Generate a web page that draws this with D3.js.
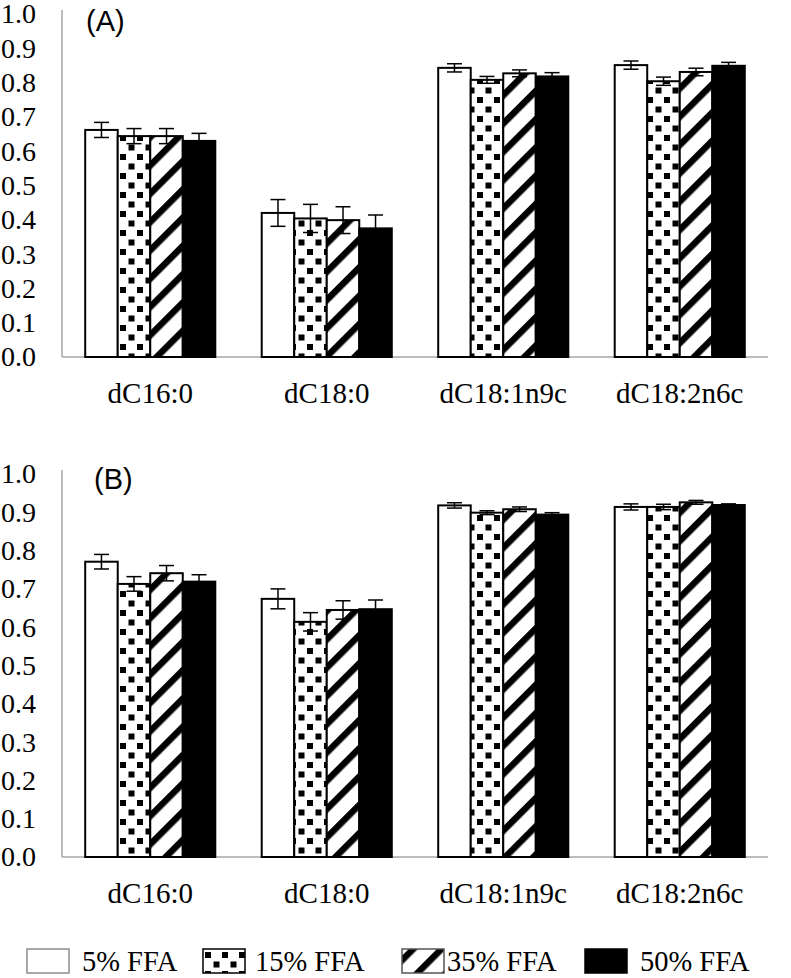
<!DOCTYPE html>
<html>
<head>
<meta charset="utf-8">
<script src="https://cdn.jsdelivr.net/npm/d3@7"></script>
</head>
<body style="margin:0">
<svg id="chart" width="791" height="978"></svg>
<script>
// ---------- data ----------
const categories = ["dC16:0", "dC18:0", "dC18:1n9c", "dC18:2n6c"];
const seriesNames = ["5% FFA", "15% FFA", "35% FFA", "50% FFA"];
const yTicks = [0, 0.1, 0.2, 0.3, 0.4, 0.5, 0.6, 0.7, 0.8, 0.9, 1.0];

// Panel (A)
const a5  = [0.662, 0.420, 0.843, 0.851];
const a15 = [0.644, 0.404, 0.808, 0.804];
const a35 = [0.644, 0.399, 0.827, 0.831];
const a50 = [0.630, 0.375, 0.818, 0.849];
const aErr5  = [0.022, 0.039, 0.012, 0.012];
const aErr15 = [0.022, 0.041, 0.010, 0.012];
const aErr35 = [0.022, 0.039, 0.010, 0.011];
const aErr50 = [0.022, 0.039, 0.011, 0.010];

// Panel (B)
const b5  = [0.771, 0.674, 0.918, 0.914];
const b15 = [0.713, 0.614, 0.899, 0.914];
const b35 = [0.741, 0.645, 0.908, 0.926];
const b50 = [0.719, 0.647, 0.894, 0.919];
const bErr5  = [0.019, 0.026, 0.007, 0.008];
const bErr15 = [0.019, 0.024, 0.005, 0.007];
const bErr35 = [0.020, 0.024, 0.006, 0.005];
const bErr50 = [0.018, 0.024, 0.005, 0.003];

// ---------- setup ----------
const SERIF = "Liberation Serif";
const SANS = "Liberation Sans";
const svg = d3.select("#chart");
const defs = svg.append("defs");

// dotted (squares) pattern
const dots = defs.append("pattern").attr("id", "dots")
  .attr("patternUnits", "userSpaceOnUse").attr("width", 17).attr("height", 19);
dots.append("rect").attr("width", 17).attr("height", 19).attr("fill", "#fff");
dots.append("rect").attr("x", 1).attr("y", 2).attr("width", 6).attr("height", 6).attr("fill", "#000");
dots.append("rect").attr("x", 9.5).attr("y", 11.5).attr("width", 6).attr("height", 6).attr("fill", "#000");

// diagonal stripe pattern
const hatch = defs.append("pattern").attr("id", "hatch")
  .attr("patternUnits", "userSpaceOnUse").attr("width", 20).attr("height", 20)
  .attr("patternTransform", "rotate(-45)");
hatch.append("rect").attr("width", 20).attr("height", 20).attr("fill", "#fff");
hatch.append("rect").attr("x", 0).attr("y", 0).attr("width", 20).attr("height", 6.5).attr("fill", "#000");

const fills = ["#ffffff", "url(#dots)", "url(#hatch)", "#000000"];

const x0 = d3.scaleBand().domain(categories).range([62, 768])
  .paddingInner(0.263).paddingOuter(0.1315);
const x1 = d3.scaleBand().domain(seriesNames).range([0, x0.bandwidth()]);

function drawPanel(label, vals, errs, yBottom, yTop, labelX, labelY, catY) {
  const y = d3.scaleLinear().domain([0, 1]).range([yBottom, yTop]);
  const g = svg.append("g");

  // y tick labels
  const yAxis = d3.axisLeft(y).tickValues(yTicks).tickFormat(d3.format(".1f")).tickSize(0).tickPadding(26);
  const ya = g.append("g").attr("transform", "translate(62,0)").call(yAxis)
    .attr("font-family", SERIF).attr("font-size", 28);
  ya.select(".domain").remove();
  ya.selectAll("text").attr("font-family", SERIF).attr("font-size", 28).attr("fill", "#000");

  // axis lines
  g.append("line").attr("x1", 62).attr("x2", 62).attr("y1", y(1) - 4).attr("y2", y(0))
    .attr("stroke", "#a6a6a6").attr("stroke-width", 1.5);
  g.append("line").attr("x1", 62).attr("x2", 768).attr("y1", y(0)).attr("y2", y(0))
    .attr("stroke", "#a6a6a6").attr("stroke-width", 1.5);

  // category labels
  const xAxis = d3.axisBottom(x0).tickSize(0).tickPadding(0);
  const xa = g.append("g").attr("transform", `translate(0,${catY})`).call(xAxis)
    .attr("font-family", SERIF).attr("font-size", 29);
  xa.select(".domain").remove();
  xa.selectAll("text").attr("font-family", SERIF).attr("font-size", 29).attr("fill", "#000")
    .attr("dy", 0);

  // bars
  seriesNames.forEach((s, si) => {
    const data = categories.map((c, ci) => ({ c, v: vals[si][ci], e: errs[si][ci] }));
    const bg = g.append("g");
    bg.selectAll("rect").data(data).enter().append("rect")
      .attr("x", d => x0(d.c) + x1(s))
      .attr("y", d => y(d.v))
      .attr("width", x1.bandwidth())
      .attr("height", d => y(0) - y(d.v))
      .attr("fill", fills[si])
      .attr("stroke", "#000").attr("stroke-width", 2);
  });

  // error bars
  seriesNames.forEach((s, si) => {
    const data = categories.map((c, ci) => ({ c, v: vals[si][ci], e: errs[si][ci] }));
    const eg = g.append("g").attr("stroke", "#000").attr("stroke-width", 1.5);
    data.forEach(d => {
      const cx = x0(d.c) + x1(s) + x1.bandwidth() / 2;
      const t = y(d.v + d.e), b = y(d.v - d.e);
      eg.append("line").attr("x1", cx).attr("x2", cx).attr("y1", t).attr("y2", b);
      eg.append("line").attr("x1", cx - 7.5).attr("x2", cx + 7.5).attr("y1", t).attr("y2", t);
      eg.append("line").attr("x1", cx - 7.5).attr("x2", cx + 7.5).attr("y1", b).attr("y2", b);
    });
  });

  // panel label
  g.append("text").attr("x", labelX).attr("y", labelY).text(label)
    .attr("font-family", SANS).attr("font-size", 29).attr("fill", "#000");
}

drawPanel("(A)", [a5, a15, a35, a50], [aErr5, aErr15, aErr35, aErr50], 357, 14, 86, 31, 403);
drawPanel("(B)", [b5, b15, b35, b50], [bErr5, bErr15, bErr35, bErr50], 857, 474, 94, 489, 903);

// ---------- legend ----------
const legendBoxes = [
  { x: 27, stroke: "#8c8c8c" },
  { x: 203, stroke: "#000" },
  { x: 402, stroke: "#555" },
  { x: 585, stroke: "#000" }
];
const legendTextX = [82, 255, 447, 640];
const lg = svg.append("g");
seriesNames.forEach((s, i) => {
  lg.append("rect").attr("x", legendBoxes[i].x).attr("y", 949).attr("width", 42).attr("height", 24)
    .attr("fill", fills[i]).attr("stroke", legendBoxes[i].stroke).attr("stroke-width", 1.5);
  lg.append("text").attr("x", legendTextX[i]).attr("y", 971).text(s)
    .attr("font-family", SERIF).attr("font-size", 28.5).attr("fill", "#000");
});
</script>
</body>
</html>
